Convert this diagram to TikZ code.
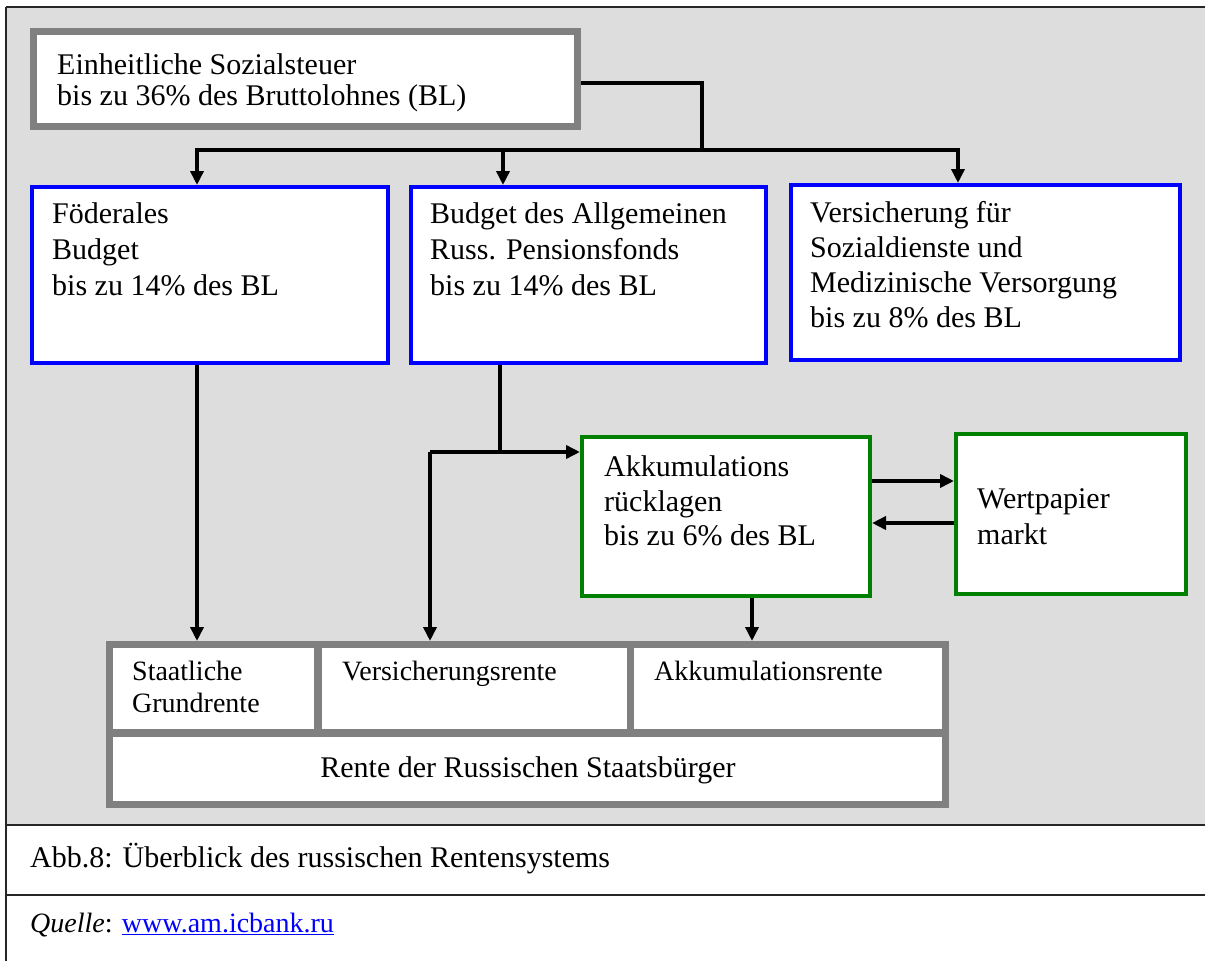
\documentclass[tikz,border=0pt]{standalone}
\usepackage{fontspec}
\setmainfont{Liberation Serif}
\usetikzlibrary{arrows.meta,calc}
\definecolor{bgc}{RGB}{221,221,221}
\definecolor{frame}{RGB}{128,128,128}
\definecolor{bbox}{RGB}{0,0,255}
\definecolor{gbox}{RGB}{0,128,0}
\definecolor{linkc}{RGB}{0,0,255}
\tikzset{
  graybox/.style={draw=frame, line width=7pt, fill=white, inner sep=0pt, anchor=north west},
  bluebox/.style={draw=bbox, line width=4pt, fill=white, inner sep=0pt, anchor=north west},
  greenbox/.style={draw=gbox, line width=4pt, fill=white, inner sep=0pt, anchor=north west},
  txt/.style={anchor=base west, inner sep=0pt, font=\fontsize{30}{36}\selectfont},
  ntxt/.style={anchor=base west, inner sep=0pt, font=\fontsize{28}{34}\selectfont},
  conn/.style={line width=3.5pt, black},
  arr/.style={line width=3.5pt, black, -{Triangle[length=14pt,width=13pt]}}
}
\begin{document}
\begin{tikzpicture}[x=1pt,y=-1pt]
\useasboundingbox (0,0) rectangle (1205,961);
\fill[white] (0,0) rectangle (1205,961);
\fill[bgc] (6,7) rectangle (1205,825);
\draw[line width=2pt, black!85] (6,7) -- (1205,7);
\draw[line width=2pt, black!85] (6,7) -- (6,961);
\draw[line width=2pt, black!85] (6,825) -- (1205,825);
\draw[line width=2pt, black!85] (6,895) -- (1205,895);

% boxes
\node[graybox, minimum width=544pt, minimum height=95pt] (top) at (30,28) {};
\node[bluebox, minimum width=356pt, minimum height=176pt] (b1) at (30,185) {};
\node[bluebox, minimum width=355pt, minimum height=176pt] (b2) at (409,185) {};
\node[bluebox, minimum width=389pt, minimum height=175pt] (b3) at (789,183) {};
\node[greenbox, minimum width=288pt, minimum height=159pt] (g1) at (580,435) {};
\node[greenbox, minimum width=230pt, minimum height=160pt] (g2) at (954,432) {};
\node[graybox, minimum width=208pt, minimum height=88pt] (c1) at (106,641) {};
\node[graybox, minimum width=312pt, minimum height=88pt] (c2) at (314.5,641) {};
\node[graybox, minimum width=315.5pt, minimum height=88pt] (c3) at (626.5,641) {};
\node[graybox, minimum width=836pt, minimum height=71pt] (c4) at (106,729.5) {};

% texts
\node[txt] (t1a) at (57,74) {Einheitliche Sozialsteuer};
\node[txt] (t1b) at (57,105) {bis zu 36\% des Bruttolohnes (BL)};
\node[txt] (t2a) at (52,223) {Föderales};
\node[txt] (t2b) at (52,259) {Budget};
\node[txt] (t2c) at (52,295) {bis zu 14\% des BL};
\node[txt] (t3a) at (430,223) {Budget des Allgemeinen};
\node[txt] (t3b) at (430,259) {Russ. Pensionsfonds};
\node[txt] (t3c) at (430,295) {bis zu 14\% des BL};
\node[txt] (t4a) at (810,222) {Versicherung für};
\node[txt] (t4b) at (810,257) {Sozialdienste und};
\node[txt] (t4c) at (810,292) {Medizinische Versorgung};
\node[txt] (t4d) at (810,327) {bis zu 8\% des BL};
\node[txt] (t5a) at (604,476) {Akkumulations};
\node[txt] (t5b) at (604,511) {rücklagen};
\node[txt] (t5c) at (604,545) {bis zu 6\% des BL};
\node[txt] (t6a) at (977,508) {Wertpapier};
\node[txt] (t6b) at (977,544) {markt};
\node[ntxt] (t7a) at (132,680) {Staatliche};
\node[ntxt] (t7b) at (132,712) {Grundrente};
\node[ntxt] (t8) at (342,680) {Versicherungsrente};
\node[ntxt] (t9) at (654,680) {Akkumulationsrente};
\node[txt, anchor=base] (t10) at (528,777) {Rente der Russischen Staatsbürger};
\node[txt] (cap) at (30,867) {Abb.8: Überblick des russischen Rentensystems};
\node[ntxt] (src) at (30,932) {\textit{Quelle}: {\color{linkc}\underline{www.am.icbank.ru}}};

% connectors
\coordinate (s0) at ($(top.east)+(0,4)$);
\coordinate (k0) at (702,83);
\coordinate (bus) at (702,150);
\coordinate (x1) at (197,150);
\coordinate (x2) at (503,150);
\coordinate (x3) at (958,150);
\draw[conn] (s0) -- (k0) -- (bus);
\draw[arr] (bus) -- (x1) -- (x1 |- b1.north);
\draw[arr] (x2) -- (x2 |- b2.north);
\draw[arr] (bus) -- (x3) -- (x3 |- b3.north);

\coordinate (d1) at (197,0);
\draw[arr] (d1 |- b1.south) -- (d1 |- c1.north);

\coordinate (d2) at (500,0);
\coordinate (j2) at (500,452);
\coordinate (k2) at (430,452);
\draw[conn] (d2 |- b2.south) -- (j2);
\draw[arr] (k2) -- (k2 -| g1.west);
\draw[arr] (k2) -- (k2 |- c2.north);

\coordinate (h1) at (0,481);
\coordinate (h2) at (0,523);
\draw[arr] (g1.east |- h1) -- (g2.west |- h1);
\draw[arr] (g2.west |- h2) -- (g1.east |- h2);

\coordinate (d3) at (752,0);
\draw[arr] (d3 |- g1.south) -- (d3 |- c3.north);
\end{tikzpicture}
\end{document}
